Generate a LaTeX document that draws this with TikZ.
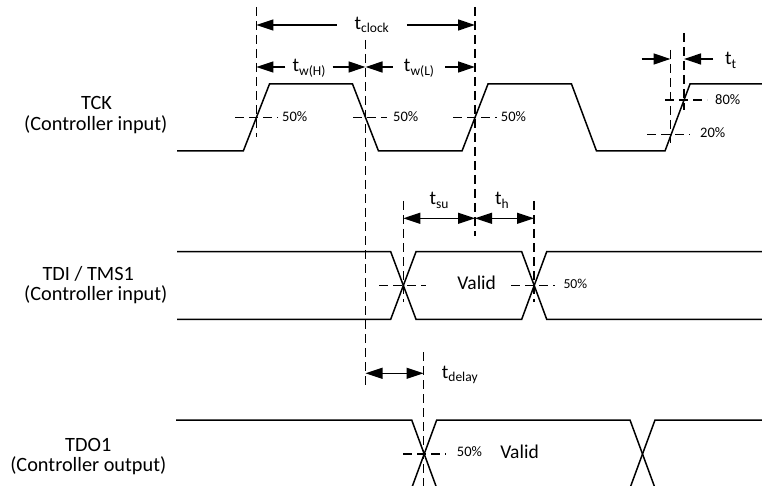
\documentclass[tikz,border=0pt]{standalone}
\usepackage{fontspec}
\setmainfont{Carlito}
\usetikzlibrary{arrows.meta}
\newcommand\lsub[1]{\raisebox{-3.5pt}{\fontsize{13.5}{14}\selectfont #1}}
\begin{document}
\begin{tikzpicture}[x=1pt,y=-1pt,
 wave/.style={line width=1.5pt, line join=miter},
 guide/.style={line width=1.2pt, dash pattern=on 9pt off 5pt},
 dimline/.style={line width=1.3pt, -{Triangle[length=17pt,width=11pt]}},
 dimboth/.style={line width=1.3pt, {Triangle[length=17pt,width=11pt]}-{Triangle[length=17pt,width=11pt]}},
 sig/.style={font=\fontsize{20.3}{22}\selectfont, inner sep=0pt, anchor=base},
 tlab/.style={font=\fontsize{19.5}{21}\selectfont, inner sep=0pt},
 pct/.style={font=\fontsize{14.5}{16}\selectfont, inner sep=0pt, anchor=base west}]
\useasboundingbox (0,0) rectangle (762,486);
\clip (0,0) rectangle (762,486);

% signal labels
\node[sig] (tck) at (96.5,110) {TCK};
\node[sig] (tck2) at (95.8,130.7) {(Controller input)};
\node[sig] (tdi) at (88.3,280.7) {TDI / TMS1};
\node[sig] (tdi2) at (95.8,300.7) {(Controller input)};
\node[sig] (tdo) at (88.3,451.7) {TDO1};
\node[sig] (tdo2) at (88.3,471.7) {(Controller output)};

% waveforms
\draw[wave] (177,151) -- (243.3,151) -- (269.5,84) -- (352.5,84) -- (378.5,151) -- (462,151) -- (488,84) -- (571.5,84) -- (596.5,151) -- (665,151) -- (690,84) -- (764,84);
\draw[wave] (177,251.7) -- (390.7,251.7) -- (416,319.3) -- (521.7,319.3) -- (546.7,251.7) -- (764,251.7);
\draw[wave] (177,319.3) -- (390.7,319.3) -- (416,251.7) -- (521.7,251.7) -- (546.7,319.3) -- (764,319.3);
\draw[wave] (176,420) -- (411.7,420) -- (436.7,488);
\draw[wave] (411.7,488) -- (436.7,420) -- (630,420) -- (655,488);
\draw[wave] (630,488) -- (655,420) -- (764,420);

% vertical guides
\draw[guide] (256.4,7) -- (256.4,137);
\draw[guide] (365.5,40) -- (365.5,387);
\draw[guide] (475,7) -- (475,236);
\draw[guide] (670.5,50) -- (670.5,145);
\draw[guide] (684,33) -- (684,110);
\draw[guide] (403.3,201) -- (403.3,302);
\draw[guide] (534,201) -- (534,302);
\draw[guide] (423.5,352) -- (423.5,488);

% horizontal level guides
\draw[guide] (235,117.3) -- (278,117.3);
\draw[guide] (353,117.3) -- (387,117.3);
\draw[guide] (453,117.3) -- (497,117.3);
\draw[guide] (665,100) -- (707,100);
\draw[guide] (647,134.3) -- (690,134.3);
\draw[guide] (379,285.5) -- (426,285.5);
\draw[guide] (511,285.5) -- (555,285.5);
\draw[guide] (403,454) -- (446,454);

% percent labels
\node[pct] (p1) at (282,121.7) {50\%};
\node[pct] (p2) at (393,121.7) {50\%};
\node[pct] (p3) at (500.7,121.7) {50\%};
\node[pct] (p80) at (715,105) {80\%};
\node[pct] (p20) at (700,137.3) {20\%};
\node[pct, font=\fontsize{13.7}{15}\selectfont] (p4) at (563.3,288.3) {50\%};
\node[pct] (p5) at (456.7,456) {50\%};

% Valid labels
\node[tlab, anchor=base] (v1) at (476.7,289.5) {Valid};
\node[tlab, anchor=base] (v2) at (519.5,458.3) {Valid};

% t_clock
\coordinate (ck1) at (256.4,25);
\coordinate (ck2) at (475,25);
\node[tlab, anchor=base, inner xsep=17.8pt] (tclock) at (371.7,29.3) {t\lsub{clock}};
\draw[dimline] (ck1 -| tclock.west) -- (ck1);
\draw[dimline] (ck2 -| tclock.east) -- (ck2);

% t_w(H), t_w(L)
\coordinate (wh1) at (256.4,67);
\coordinate (wh2) at (365.5,67);
\coordinate (wl2) at (475,67);
\node[tlab, anchor=base, inner xsep=7pt] (twh) at (309,71.7) {t\lsub{w(H)}};
\draw[dimline] (wh1 -| twh.west) -- (wh1);
\draw[dimline] (wh2 -| twh.east) -- (wh2);
\node[tlab, anchor=base, inner xsep=10.8pt] (twl) at (419,71.7) {t\lsub{w(L)}};
\draw[dimline] (wh2 -| twl.west) -- (wh2);
\draw[dimline] (wl2 -| twl.east) -- (wl2);

% t_t
\coordinate (tt0) at (641.7,59);
\coordinate (tt1) at (670.5,59);
\coordinate (tt2) at (684,59);
\coordinate (tt3) at (713,59);
\node[tlab, anchor=base west] (ttl) at (725,65) {t\lsub{t}};
\draw[dimline] (tt0) -- (tt1);
\draw[dimline] (tt3) -- (tt2);

% t_su, t_h
\coordinate (su1) at (403.3,218.3);
\coordinate (su2) at (475,218.3);
\coordinate (h2) at (534,218.3);
\node[tlab, anchor=base] (tsu) at (439,205) {t\lsub{su}};
\node[tlab, anchor=base] (th) at (502,205) {t\lsub{h}};
\draw[dimboth] (su1) -- (su2);
\draw[dimboth] (su2) -- (h2);

% t_delay
\coordinate (d1) at (365.5,373.3);
\coordinate (d2) at (423.5,373.3);
\node[tlab, anchor=base west] (tdelay) at (441.7,378.3) {t\lsub{delay}};
\draw[dimboth] (d1) -- (d2);
\end{tikzpicture}
\end{document}
